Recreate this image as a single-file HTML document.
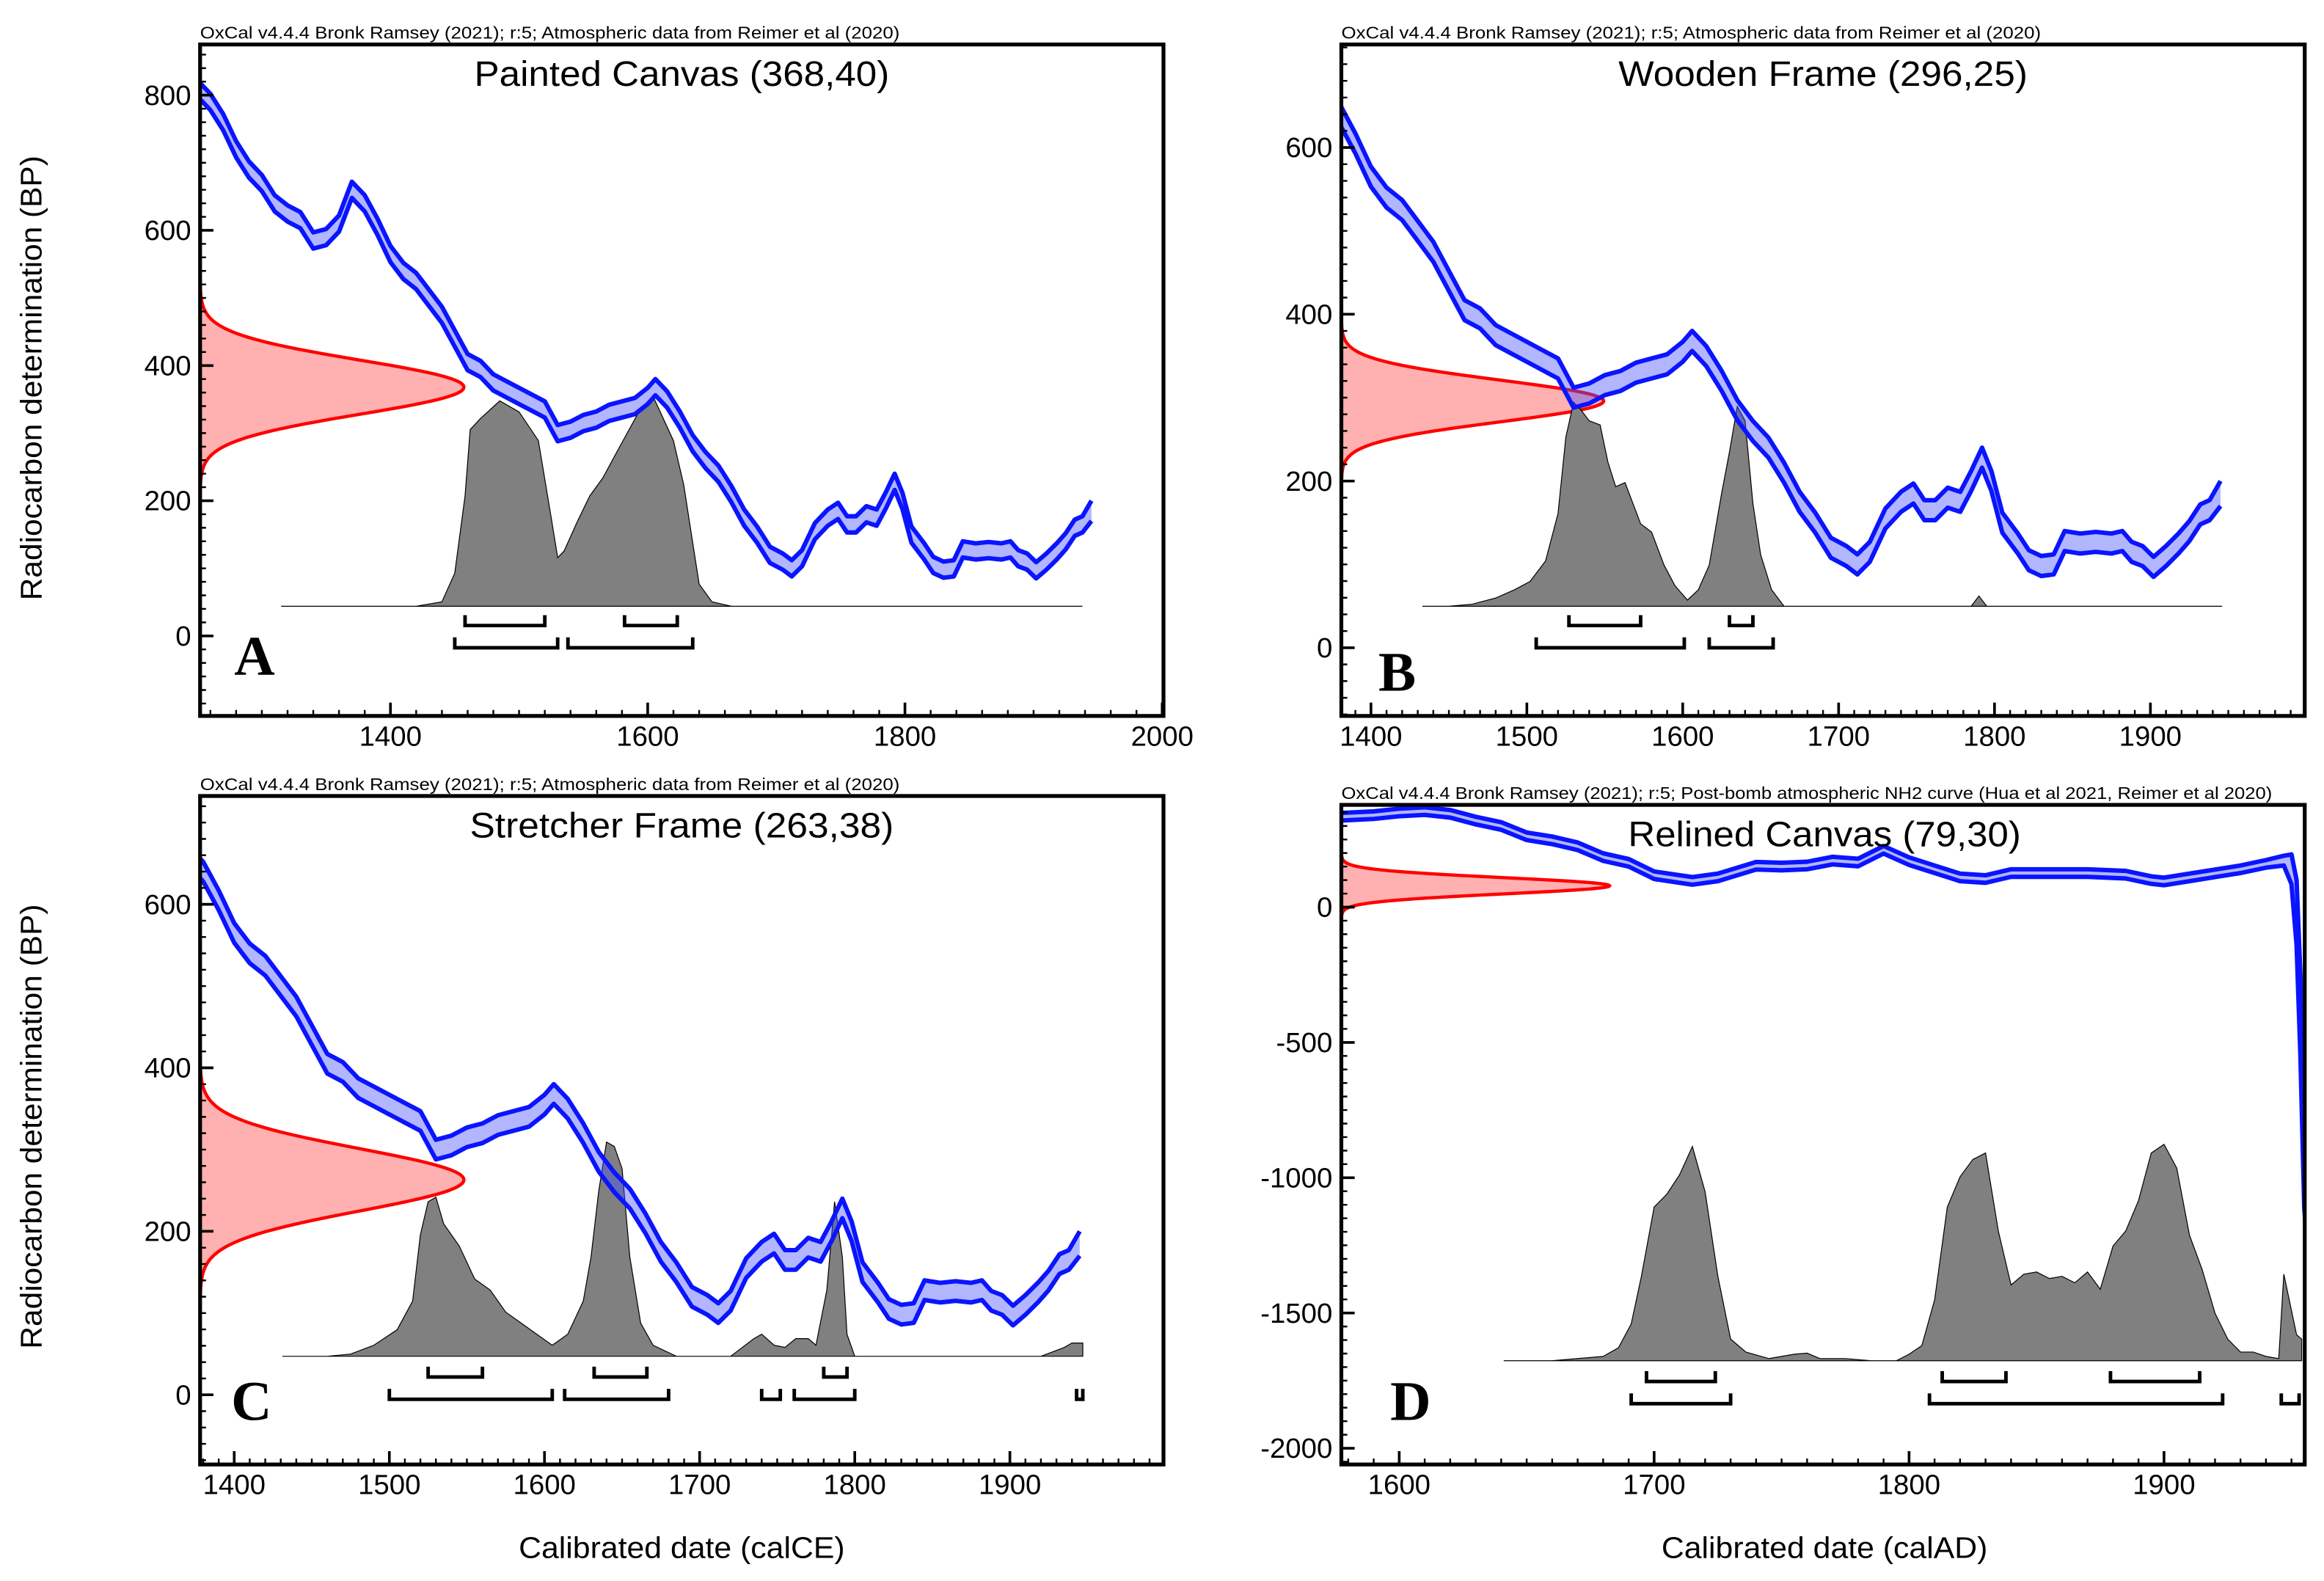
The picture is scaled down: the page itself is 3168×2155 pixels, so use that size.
<!DOCTYPE html>
<html><head><meta charset="utf-8"><style>
html,body{margin:0;padding:0;background:#fff;}
svg{display:block;font-family:"Liberation Sans",sans-serif;}
</style></head><body>
<svg id="fig" xmlns="http://www.w3.org/2000/svg" width="3168" height="2155" viewBox="0 0 1568 1066.6">
<rect x="0" y="0" width="1568" height="1066.6" fill="#fff"/>
<text x="28" y="255" font-size="20" text-anchor="middle" textLength="300" lengthAdjust="spacingAndGlyphs" transform="rotate(-90 28 255)">Radiocarbon determination (BP)</text>
<text x="28" y="760" font-size="20" text-anchor="middle" textLength="300" lengthAdjust="spacingAndGlyphs" transform="rotate(-90 28 760)">Radiocarbon determination (BP)</text>
<text x="460" y="1051" font-size="20" text-anchor="middle" textLength="220" lengthAdjust="spacingAndGlyphs">Calibrated date (calCE)</text>
<text x="1231" y="1051" font-size="20" text-anchor="middle" textLength="220" lengthAdjust="spacingAndGlyphs">Calibrated date (calAD)</text>
</svg>
<script>
// Shared IntCal20 curve (panels A-C)
const calYears = [1250,1260,1270,1280,1290,1300,1310,1320,1330,1340,1350,1360,1370,1380,1390,1400,1410,1420,1430,1440,1450,1460,1470,1480,1490,1500,1510,1520,1530,1540,1550,1560,1570,1580,1590,1600,1606,1615,1625,1635,1645,1655,1665,1675,1685,1695,1705,1712,1720,1730,1740,1748,1755,1762,1770,1778,1785,1792,1798,1805,1815,1822,1830,1838,1845,1855,1865,1875,1882,1888,1895,1902,1910,1918,1925,1932,1938,1945];
const calValues = [810,790,760,720,690,670,640,625,615,585,590,610,660,640,605,565,540,525,500,475,440,405,395,375,365,355,345,335,300,305,315,320,330,335,340,355,368,350,320,285,260,240,210,175,150,120,110,100,115,155,175,185,165,165,180,175,200,228,200,150,125,105,98,100,128,125,127,125,128,115,110,97,110,125,140,160,165,185];
const calHalf = [12,12,12,12,12,12,12,12,12,12,12,12,12,12,12,12,12,12,12,12,12,12,12,12,12,12,12,12,12,12,12,12,12,12,12,12,12,12,12,12,12,12,12,12,12,12,12,12,12,12,12,12,12,12,12,12,12,12,12,12,12,12,12,12,12,12,12,12,12,12,12,12,12,12,12,12,12,15];
// Post-bomb curve (panel D)
const dCalYears = [1577,1590,1600,1610,1620,1630,1640,1650,1660,1670,1680,1690,1700,1715,1725,1740,1750,1760,1770,1780,1790,1800,1810,1820,1830,1840,1855,1870,1885,1895,1900,1910,1920,1930,1940,1947,1950,1952,1953.5,1955,1956];
const dCalValues = [334,340,350,355,345,320,300,262,247,225,185,164,118,97,110,153,150,154,172,165,212,170,140,110,104,126,126,126,120,100,95,110,125,140,160,172,140,-20,-400,-1050,-1200];
const dCalHalf = [14,14,14,14,14,14,14,14,14,14,14,14,14,14,14,14,14,14,14,14,14,14,14,14,14,14,14,14,14,14,14,14,14,14,14,18,55,120,150,60,40];
// Posterior densities
const aPostYears = [1315,1420,1440,1450,1458,1462,1470,1485,1500,1515,1525,1530,1535,1545,1555,1565,1578,1595,1605,1620,1628,1640,1650,1665,1790,1795,1938];
const aPostDens = [0,0,0.02,0.15,0.5,0.8,0.85,0.93,0.88,0.75,0.4,0.22,0.25,0.38,0.5,0.58,0.72,0.9,0.94,0.75,0.55,0.1,0.02,0,0,0,0];
const bPostYears = [1433,1450,1465,1480,1492,1502,1512,1520,1525,1530,1535,1540,1547,1552,1557,1563,1568,1573,1580,1588,1595,1603,1610,1617,1625,1630,1635,1640,1645,1650,1657,1665,1785,1790,1795,1946];
const bPostDens = [0,0,0.01,0.04,0.08,0.12,0.22,0.45,0.82,0.99,0.95,0.9,0.88,0.7,0.58,0.6,0.5,0.4,0.36,0.2,0.1,0.03,0.08,0.2,0.55,0.75,0.97,0.9,0.5,0.25,0.08,0,0,0.05,0,0];
const cPostYears = [1431,1460,1475,1490,1505,1515,1520,1525,1530,1535,1545,1555,1565,1575,1585,1595,1605,1615,1625,1630,1635,1640,1645,1650,1655,1662,1670,1685,1720,1735,1740,1748,1755,1762,1770,1775,1782,1787,1792,1795,1800,1920,1935,1940,1947];
const cPostDens = [0,0,0.01,0.05,0.12,0.25,0.55,0.7,0.72,0.6,0.5,0.35,0.3,0.2,0.15,0.1,0.05,0.1,0.25,0.45,0.75,0.97,0.95,0.85,0.45,0.15,0.05,0,0,0.08,0.1,0.05,0.04,0.08,0.08,0.05,0.3,0.7,0.45,0.1,0,0,0.04,0.06,0.06];
const dPostYears = [1641,1660,1680,1686,1691,1695,1700,1705,1710,1715,1720,1725,1730,1736,1745,1755,1760,1765,1775,1785,1795,1800,1805,1810,1815,1820,1825,1830,1835,1840,1845,1850,1855,1860,1865,1870,1875,1880,1885,1890,1895,1900,1905,1910,1915,1920,1925,1930,1935,1940,1945,1947,1952,1954];
const dPostDens = [0,0,0.02,0.06,0.17,0.39,0.71,0.77,0.86,0.99,0.78,0.39,0.1,0.04,0.01,0.03,0.035,0.01,0.01,0,0,0.03,0.07,0.28,0.71,0.85,0.93,0.96,0.6,0.35,0.4,0.41,0.38,0.39,0.36,0.41,0.33,0.53,0.6,0.74,0.96,1.0,0.89,0.58,0.42,0.22,0.1,0.04,0.04,0.02,0.01,0.4,0.12,0.1];
// Calibrated ranges: 68.3% and 95.4%
const a68 = [[1458,1520],[1582,1623]];
const a95 = [[1450,1530],[1538,1635]];
const b68 = [[1527,1573],[1630,1645]];
const b95 = [[1506,1601],[1617,1658]];
const c68 = [[1525,1560],[1632,1666],[1780,1795]];
const c95 = [[1500,1605],[1613,1680],[1740,1752],[1761,1800],[1943,1947]];
const d68 = [[1697,1724],[1813,1838],[1879,1914]];
const d95 = [[1691,1730],[1808,1923],[1946,1953]];
// Measured dates (mean, sigma)
const aDate = [368,40];
const bDate = [296,25];
const cDate = [263,38];
const dDate = [79,30];
// Axis ticks
const aXTicks = [1400,1600,1800,2000];
const aYTicks = [0,200,400,600,800];
const bXTicks = [1400,1500,1600,1700,1800,1900];
const bYTicks = [0,200,400,600];
const cXTicks = [1400,1500,1600,1700,1800,1900];
const cYTicks = [0,200,400,600];
const dXTicks = [1600,1700,1800,1900];
const dYTicks = [0,-500,-1000,-1500,-2000];

const NS = "http://www.w3.org/2000/svg";
const svg = document.getElementById('fig');
function mk(tag, attrs, parent){
  const e = document.createElementNS(NS, tag);
  for (const k in attrs) e.setAttribute(k, attrs[k]);
  (parent||svg).appendChild(e);
  return e;
}
const hdrA = "OxCal v4.4.4 Bronk Ramsey (2021); r:5; Atmospheric data from Reimer et al (2020)";
const hdrD = "OxCal v4.4.4 Bronk Ramsey (2021); r:5; Post-bomb atmospheric NH2 curve (Hua et al 2021, Reimer et al 2020)";

const panels = [
 {id:'a', letter:'A', title:'Painted Canvas (368,40)', tc:460, tw:280, hdr:hdrA, hw:472, x0:135,x1:785,y0:30,y1:483, xmin:1252,xmax:2001, ymin:-118.4,ymax:875,
  xt:aXTicks, yt:aYTicks, xminor:20, yminor:20, cy:calYears, cv:calValues, ch:calHalf, py:aPostYears, pd:aPostDens,
  base:409, H:149, r68:a68, r95:a95, b68y:[415,422], b95y:[430,437], date:aDate, W:178, lx:158, ly:455},
 {id:'b', letter:'B', title:'Wooden Frame (296,25)', tc:1230, tw:276, hdr:hdrA, hw:472, x0:905,x1:1555,y0:30,y1:483, xmin:1381,xmax:1999, ymin:-81.8,ymax:723.6,
  xt:bXTicks, yt:bYTicks, xminor:10, yminor:20, cy:calYears, cv:calValues, ch:calHalf, py:bPostYears, pd:bPostDens,
  base:409, H:139, r68:b68, r95:b95, b68y:[415,422], b95y:[430,437], date:bDate, W:177, lx:930, ly:466},
 {id:'c', letter:'C', title:'Stretcher Frame (263,38)', tc:460, tw:286, hdr:hdrA, hw:472, x0:135,x1:785,y0:537,y1:988, xmin:1378,xmax:1999, ymin:-85.2,ymax:732.5,
  xt:cXTicks, yt:cYTicks, xminor:10, yminor:20, cy:calYears, cv:calValues, ch:calHalf, py:cPostYears, pd:cPostDens,
  base:915, H:149, r68:c68, r95:c95, b68y:[922,929], b95y:[937,944], date:cDate, W:178, lx:156, ly:958},
 {id:'d', letter:'D', title:'Relined Canvas (79,30)', tc:1231, tw:265, hdr:hdrD, hw:628, x0:905,x1:1555,y0:543,y1:988, xmin:1577.3,xmax:1955.2, ymin:-2060,ymax:378,
  xt:dXTicks, yt:dYTicks, xminor:10, yminor:50, cy:dCalYears, cv:dCalValues, ch:dCalHalf, py:dPostYears, pd:dPostDens,
  base:918, H:146, r68:d68, r95:d95, b68y:[925,932], b95y:[940,947], date:dDate, W:181, lx:938, ly:958}
];

panels.forEach(p=>{
  const sx = v => p.x0 + (v-p.xmin)/(p.xmax-p.xmin)*(p.x1-p.x0);
  const sy = v => p.y1 - (v-p.ymin)/(p.ymax-p.ymin)*(p.y1-p.y0);
  const g = mk('g',{});
  
  
  const defs = mk('defs',{},g);
  const cp = mk('clipPath',{id:'clip-'+p.id},defs);
  mk('rect',{x:p.x0,y:p.y0,width:p.x1-p.x0,height:p.y1-p.y0},cp);
  const hdr = mk('text',{x:p.x0,y:p.y0-4,'font-size':11.5,textLength:p.hw,lengthAdjust:'spacingAndGlyphs'},g);
  hdr.textContent = p.hdr;
  
  
  const plot = mk('g',{'clip-path':'url(#clip-'+p.id+')'},g);
  const [mu,sig] = p.date;
  let line=[];
  for(let z=-4.5; z<=4.5001; z+=0.05){
    const v = mu + z*sig;
    const x = p.x0 + p.W*Math.exp(-0.5*z*z);
    line.push([x,sy(v)]);
  }
  const dpath = 'M'+p.x0+','+line[0][1]+' '+line.map(q=>'L'+q[0].toFixed(2)+','+q[1].toFixed(2)).join(' ')+' L'+p.x0+','+line[line.length-1][1]+'Z';
  const rf = mk('path',{d:dpath,fill:'#ffb0b0',stroke:'none'},plot);
  
  
  const rl = mk('path',{d:'M'+line.map(q=>q[0].toFixed(2)+','+q[1].toFixed(2)).join(' L'),fill:'none',stroke:'#ff0000','stroke-width':2.2},plot);
  
  
  const pts = p.py.map((y,i)=>[sx(y), p.base - p.pd[i]*p.H]);
  const pp = 'M'+sx(p.py[0])+','+p.base+' '+pts.map(q=>'L'+q[0].toFixed(2)+','+q[1].toFixed(2)).join(' ')+' L'+sx(p.py[p.py.length-1])+','+p.base+'Z';
  const post = mk('path',{d:pp,fill:'#808080',stroke:'#000','stroke-width':0.6},plot);
  
  
  const hiP = p.cy.map((y,i)=>[sx(y), sy(p.cv[i]+p.ch[i])]);
  const loP = p.cy.map((y,i)=>[sx(y), sy(p.cv[i]-p.ch[i])]);
  const band = 'M'+hiP.map(q=>q[0].toFixed(2)+','+q[1].toFixed(2)).join(' L')+' L'+loP.slice().reverse().map(q=>q[0].toFixed(2)+','+q[1].toFixed(2)).join(' L')+'Z';
  const bf = mk('path',{d:band,fill:'rgba(70,80,255,0.42)',stroke:'none'},plot);
  
  
  [hiP,loP].forEach((arr,k)=>{
    const l = mk('path',{d:'M'+arr.map(q=>q[0].toFixed(2)+','+q[1].toFixed(2)).join(' L'),fill:'none',stroke:'#0a14ff','stroke-width':3,'stroke-linejoin':'round'},plot);
    
    
  });
  [[p.r68,p.b68y],[p.r95,p.b95y]].forEach((pair,k)=>{
    pair[0].forEach(r=>{
      const a=sx(r[0]), b=sx(r[1]);
      const br = mk('path',{d:`M${a},${pair[1][0]} L${a},${pair[1][1]} L${b},${pair[1][1]} L${b},${pair[1][0]}`,fill:'none',stroke:'#000','stroke-width':2.4},g);
      
      
    });
  });
  const fr = mk('rect',{x:p.x0,y:p.y0,width:p.x1-p.x0,height:p.y1-p.y0,fill:'none',stroke:'#000','stroke-width':2.6},g);
  
  
  let mt='';
  for(let v=Math.ceil(p.xmin/p.xminor)*p.xminor; v<=p.xmax; v+=p.xminor){ const x=sx(v); mt+=`M${x},${p.y1} L${x},${p.y1-4} `; }
  for(let v=Math.ceil(p.ymin/p.yminor)*p.yminor; v<=p.ymax; v+=p.yminor){ const y=sy(v); mt+=`M${p.x0},${y} L${p.x0+4},${y} `; }
  mk('path',{d:mt,stroke:'#000','stroke-width':1.2,fill:'none'},g);
  p.xt.forEach(v=>{
    const x=sx(v);
    mk('line',{x1:x,y1:p.y1,x2:x,y2:p.y1-9,stroke:'#000','stroke-width':1.8},g);
    const t=mk('text',{x:x,y:p.y1+20,'font-size':19,'text-anchor':'middle'},g);
    t.textContent=v;
    
    
  });
  p.yt.forEach(v=>{
    const y=sy(v);
    mk('line',{x1:p.x0,y1:y,x2:p.x0+9,y2:y,stroke:'#000','stroke-width':1.8},g);
    const t=mk('text',{x:p.x0-6,y:y+6.5,'font-size':19,'text-anchor':'end'},g);
    t.textContent=v;
    
    
  });
  const tt = mk('text',{x:p.tc,y:p.y0+28,'font-size':24,'text-anchor':'middle',textLength:p.tw,lengthAdjust:'spacingAndGlyphs'},g);
  tt.textContent = p.title;
  
  
  const lt = mk('text',{x:p.lx,y:p.ly,'font-size':38,'font-weight':'bold','font-family':'"Liberation Serif",serif'},g);
  lt.textContent = p.letter;
  
  
});
</script>
</body></html>
